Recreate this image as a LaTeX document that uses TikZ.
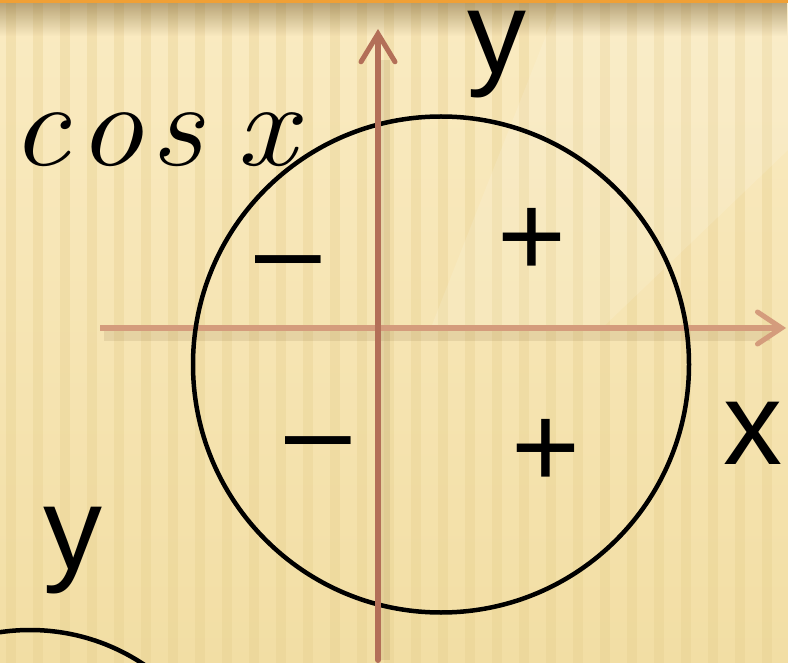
\documentclass[tikz,border=0pt]{standalone}
\usepackage{fontspec}
\usepackage{graphicx}
\setsansfont{Liberation Sans}
\usetikzlibrary{arrows.meta,fadings}
\definecolor{bgtop}{HTML}{FAEBC2}
\definecolor{bgbot}{HTML}{F2DEA4}
\definecolor{stripe}{HTML}{E6CF8E}
\definecolor{axv}{HTML}{B36F58}
\definecolor{axh}{HTML}{D49C7C}
\definecolor{topline}{HTML}{F0A035}
\definecolor{shadowc}{HTML}{7A6030}
\begin{document}
\begin{tikzpicture}[x=1pt,y=-1pt,
  lab/.style={inner sep=0pt, font=\sffamily\fontsize{118}{120}\selectfont},
  sign/.style={inner sep=0pt, font=\sffamily\fontsize{118}{120}\selectfont},
  axisv/.style={draw=axv, line width=6pt, line cap=round,
    -{Straight Barb[length=28pt,width=34pt,line width=5pt,line cap=round]}},
  axish/.style={draw=axh, line width=6pt,
    -{Straight Barb[length=24pt,width=32pt,line width=5pt,line cap=round]}},
  axshadow/.style={draw=shadowc, opacity=0.12, line width=12pt},
  circ/.style={draw=black, line width=4.5pt}]
\useasboundingbox (0,0) rectangle (788,663);
\clip (0,0) rectangle (788,663);
% background
\shade[top color=bgtop, bottom color=bgbot] (0,0) rectangle (788,663);
\foreach \i in {0,...,29}
  \fill[stripe, opacity=0.35] ({\i*27+6},0) rectangle ++(10,663);
\fill[white, opacity=0.12] (560,0) -- (788,0) -- (788,150) -- (600,330) -- (430,330) -- cycle;
\fill[shadowc, opacity=0.5, path fading=south] (0,3) rectangle (788,36);
\fill[topline] (0,0) rectangle (788,3.5);
% axes coordinates
\coordinate (hx0) at (100,328);
\coordinate (hx1) at (786,328);
\coordinate (vy0) at (378,660);
\coordinate (vy1) at (378,29);
% shadows
\draw[axshadow] (104,335) -- (770,335);
\draw[axshadow] (384,660) -- (384,60);
% horizontal axis
\draw[axish] (hx0) -- (hx1);
% circles
\draw[circ] (441,364.5) circle[radius=248];
\draw[circ] (30,835) circle[radius=205];
% vertical axis
\draw[axisv] (vy0) -- (vy1);
% labels
\node[lab] (ytop) at (497,55) {y};
\node[lab] (xlab) at (753,433) {x};
\node[lab] (ybl) at (73,551) {y};
\node[inner sep=0pt, anchor=base west, font=\rmfamily\itshape\fontsize{120}{124}\selectfont\addfontfeature{FakeBold=8}] (cosx) at (10,166) {\scalebox{1.1}[1]{c\kern7pt o\kern7pt s\kern30pt x}};
\node[sign] (m1) at (288,273) {–};
\node[sign] (m2) at (318,454) {–};
\node[sign] (p1) at (532,242) {+};
\node[sign] (p2) at (546,453) {+};
\end{tikzpicture}
\end{document}
